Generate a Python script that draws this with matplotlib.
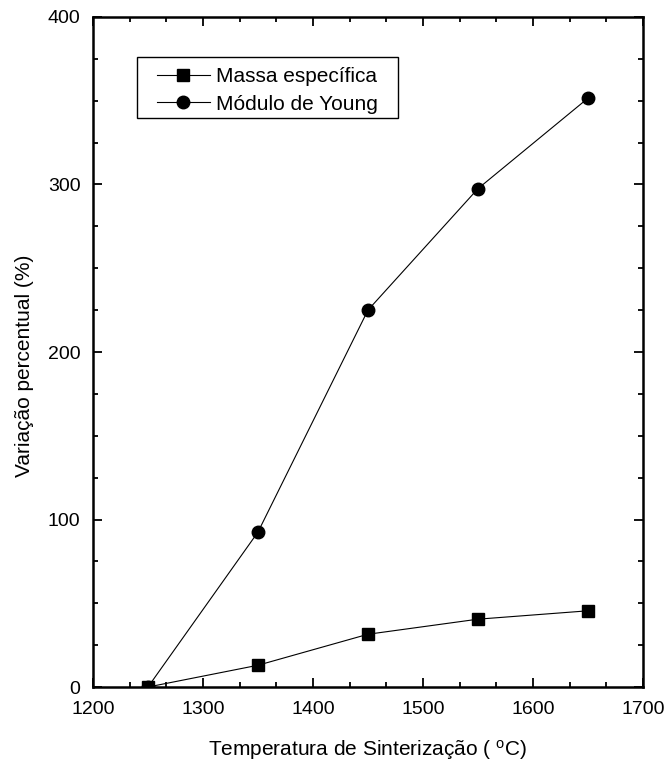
import matplotlib
matplotlib.use("Agg")
import matplotlib.pyplot as plt
from matplotlib.ticker import MultipleLocator
from matplotlib.patches import Rectangle

plt.rcParams['font.family'] = ['Liberation Sans', 'DejaVu Sans']
plt.rcParams['mathtext.fontset'] = 'custom'
plt.rcParams['mathtext.rm'] = 'Liberation Sans'
plt.rcParams['mathtext.it'] = 'Liberation Sans'

temperatura = [1250, 1350, 1450, 1550, 1650]
massa = [0, 13, 31.5, 40.5, 45.5]
young = [0, 92.5, 225, 297.5, 351.5]

fig = plt.figure(figsize=(6.69, 7.62), dpi=100)
ax = fig.add_axes([0.139, 0.0984, 0.822, 0.8793])

ax.plot(temperatura, massa, color='black', lw=0.8, marker='s', ms=8.3, label='Massa específica')
ax.plot(temperatura, young, color='black', lw=0.8, marker='o', ms=9, label='Módulo de Young')

ax.set_xlim(1200, 1700)
ax.set_ylim(0, 400)
ax.xaxis.set_major_locator(MultipleLocator(100))
ax.xaxis.set_minor_locator(MultipleLocator(100/3))
ax.yaxis.set_major_locator(MultipleLocator(100))
ax.yaxis.set_minor_locator(MultipleLocator(25))
ax.tick_params(which='both', direction='in', top=True, right=True, labelsize=14, width=1.3)
ax.tick_params(which='major', length=6.5)
ax.tick_params(which='minor', length=3.6)
ax.tick_params(axis='x', pad=10)
ax.tick_params(axis='y', pad=9)
for s in ax.spines.values():
    s.set_linewidth(1.8)

ax.set_xlabel('Temperatura de Sinterização ( $^{\\mathrm{o}}$C)', fontsize=15)
ax.xaxis.set_label_coords(0.5, -0.076)
ax.set_ylabel('Variação percentual (%)', fontsize=15)
ax.yaxis.set_label_coords(-0.108, 0.479)

leg = ax.legend(loc='upper left', bbox_to_anchor=(0.1164, 0.9248), borderaxespad=0,
                fontsize=15, frameon=False,
                handlelength=2.54, borderpad=0, labelspacing=0.4, handletextpad=0.29)
ax.add_patch(Rectangle((0.08, 0.8493), 0.4745, 0.091, transform=ax.transAxes,
                       fill=False, edgecolor='black', lw=1.0, clip_on=False, zorder=5))

fig.savefig('out.png', dpi=100)
